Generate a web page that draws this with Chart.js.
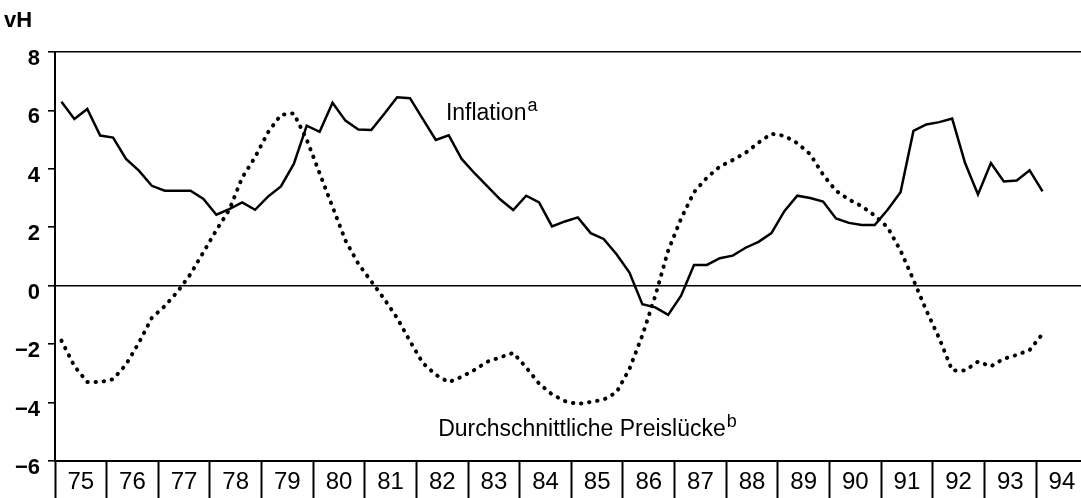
<!DOCTYPE html>
<html lang="de">
<head>
<meta charset="UTF-8">
<title>Inflation und durchschnittliche Preislücke</title>
<style>
  html, body { margin: 0; padding: 0; background: #fff; }
  #wrap { width: 1081px; height: 498px; position: relative; }
</style>
</head>
<body>
<div id="wrap"><canvas id="chart"></canvas></div>

<script src="https://cdn.jsdelivr.net/npm/chart.js@4.4.0/dist/chart.umd.min.js"></script>
<script>
    // Quartalswerte 1975 Q1 - 1994 Q1, in vH
    const startYear = 75;
    const yearLabels = [75, 76, 77, 78, 79, 80, 81, 82, 83, 84, 85, 86, 87, 88, 89, 90, 91, 92, 93, 94];

    const inflation = [
        6.30, 5.71, 6.05, 5.14, 5.07, 4.34, 3.94, 3.42, 3.25, 3.25, 3.25, 2.97, 2.43, 2.62,
        2.85, 2.60, 3.05, 3.40, 4.17, 5.48, 5.27, 6.26, 5.65, 5.35, 5.33, 5.88, 6.45, 6.42,
        5.70, 4.99, 5.15, 4.34, 3.85, 3.40, 2.95, 2.59, 3.08, 2.85, 2.03, 2.20, 2.34, 1.80,
        1.60, 1.08, 0.45, -0.63, -0.74, -1.00, -0.34, 0.71, 0.71, 0.94, 1.03, 1.30, 1.50,
        1.80, 2.55, 3.08, 3.00, 2.88, 2.30, 2.15, 2.08, 2.08, 2.60, 3.20, 5.30, 5.52, 5.60,
        5.72, 4.20, 3.12, 4.20, 3.57, 3.60, 3.95, 3.23
    ];

    const preisluecke = [
        -1.88, -2.75, -3.30, -3.30, -3.20, -2.70, -1.95, -1.10, -0.70, -0.20, 0.40, 1.15, 1.90, 2.60,
        3.70, 4.40, 5.25, 5.85, 5.90, 5.00, 3.85, 2.70, 1.55, 0.75, 0.15, -0.45, -1.10, -1.90,
        -2.65, -3.05, -3.30, -3.12, -2.88, -2.60, -2.45, -2.30, -2.80, -3.35, -3.72, -3.95, -4.05, -3.98,
        -3.90, -3.65, -2.85, -1.70, -0.35, 1.20, 2.30, 3.20, 3.70, 4.08, 4.30, 4.55, 4.90,
        5.20, 5.13, 4.88, 4.50, 3.80, 3.25, 2.95, 2.72, 2.40, 2.00, 1.20, 0.20, -0.85, -1.80,
        -2.90, -2.90, -2.60, -2.76, -2.50, -2.37, -2.20, -1.65
    ];

    // Quartal i liegt in der Mitte seines Viertels des Jahres
    const toPoints = arr => arr.map((v, i) => ({ x: startYear + i / 4 + 0.125, y: v }));

    const FONT = '"Liberation Sans", Arial, Helvetica, sans-serif';

    // Beschriftungen im Diagramm (Text + Hochzeichen), Lage in Datenwerten
    const notes = [
        { text: 'Inflation', sup: 'a', x: 82.57, y: 5.68 },
        { text: 'Durchschnittliche Preislücke', sup: 'b', x: 82.42, y: -5.14 }
    ];

    const textPlugin = {
        id: 'texte',
        afterDraw(chart) {
            const ctx = chart.ctx;
            const xs = chart.scales.x, ys = chart.scales.y;
            ctx.save();
            ctx.fillStyle = '#000';
            ctx.textBaseline = 'alphabetic';
            ctx.textAlign = 'left';

            // Einheit oben links
            ctx.font = 'bold 22px ' + FONT;
            ctx.fillText('vH', 4, 27);

            notes.forEach(n => {
                const px = xs.getPixelForValue(n.x);
                const py = ys.getPixelForValue(n.y);
                ctx.font = '23px ' + FONT;
                ctx.fillText(n.text, px, py);
                const w = ctx.measureText(n.text).width;
                ctx.font = '18px ' + FONT;
                ctx.fillText(n.sup, px + w + 1, py - 9);
            });
            ctx.restore();
        }
    };

    const chart = new Chart(document.getElementById('chart'), {
        type: 'line',
        data: {
            datasets: [
                {
                    label: 'Inflation',
                    data: toPoints(inflation),
                    borderColor: '#000',
                    borderWidth: 2.5,
                    borderJoinStyle: 'miter',
                    pointRadius: 0,
                    tension: 0
                },
                {
                    label: 'Durchschnittliche Preislücke',
                    data: toPoints(preisluecke),
                    borderColor: '#000',
                    borderWidth: 4,
                    borderDash: [0.4, 7.8],
                    borderCapStyle: 'round',
                    pointRadius: 0,
                    tension: 0
                }
            ]
        },
        options: {
            responsive: true,
            maintainAspectRatio: false,
            animation: false,
            layout: { padding: { top: 52, right: 0, bottom: 0, left: 0 } },
            plugins: {
                legend: { display: false },
                tooltip: { enabled: false }
            },
            scales: {
                x: {
                    type: 'linear',
                    min: 75,
                    max: 94.87,
                    afterFit: s => { s.height = 37; },
                    grid: {
                        drawOnChartArea: false,
                        drawTicks: true,
                        tickLength: 37,
                        tickColor: '#000',
                        tickWidth: 2
                    },
                    border: { display: true, color: '#000', width: 2 },
                    ticks: {
                        stepSize: 1,
                        includeBounds: false,
                        autoSkip: false,
                        maxRotation: 0,
                        labelOffset: 25.8,
                        padding: -30,
                        color: '#000',
                        font: { family: FONT, size: 24 },
                        callback: v => yearLabels.includes(v) ? String(v) : ''
                    }
                },
                y: {
                    min: -6,
                    max: 8,
                    afterFit: s => { s.width = 55; },
                    grid: {
                        color: c => (c.tick && (c.tick.value === 0 || c.tick.value === 8)) ? '#000' : 'rgba(0,0,0,0)',
                        lineWidth: 1.6,
                        tickColor: '#000',
                        tickLength: 7,
                        tickWidth: 1.6
                    },
                    border: { display: true, color: '#000', width: 2 },
                    ticks: {
                        stepSize: 2,
                        padding: 8,
                        labelOffset: 7,
                        color: '#000',
                        font: { family: FONT, size: 22, weight: 'bold' },
                        callback: v => v < 0 ? '\u2212' + Math.abs(v) : String(v)
                    }
                }
            }
        },
        plugins: [textPlugin]
    });
</script>
</body>
</html>
